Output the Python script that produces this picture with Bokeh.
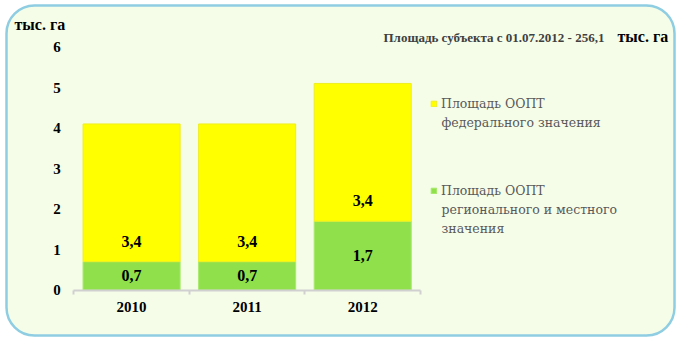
from bokeh.plotting import figure
from bokeh.models import (Range1d, FixedTicker, BoxAnnotation, Label, Legend,
                          LegendItem, ColumnDataSource)
from bokeh.embed import file_html
from bokeh.resources import INLINE
from bokeh.core.properties import value

# ---- data ----
years = ["2010", "2011", "2012"]
regional = [0.7, 0.7, 1.7]
federal = [3.4, 3.4, 3.4]
regional_labels = ["0,7", "0,7", "1,7"]
federal_labels = ["3,4", "3,4", "3,4"]
y_ticks = [0, 1, 2, 3, 4, 5, 6]
series_federal = ["Площадь ООПТ", "федерального значения"]
series_regional = ["Площадь ООПТ", "регионального и местного", "значения"]
subject_note = "Площадь субъекта с 01.07.2012 - 256,1"
unit = "тыс. га"

FONT = "Liberation Serif"
LEG_FONT = "DejaVu Serif"
W, H = 677, 340
# plot area (canvas px) of the chart inside the whole-canvas frame
FL, FR, FT, FB = 73.3, 420.0, 46.5, 289.5
x0, x1 = -0.5, len(years) - 0.5
y0, y1 = 0, 6
ppx = (FR - FL) / (x1 - x0)
ppy = (FB - FT) / (y1 - y0)
x_range = Range1d(x0 - FL / ppx, x1 + (W - FR) / ppx)
y_range = Range1d(y0 - (H - FB) / ppy, y1 + FT / ppy)

xc = list(range(len(years)))
source = ColumnDataSource(dict(
    x=xc, regional=regional, federal=federal,
    reg_y=[v / 2 for v in regional],
    fed_y=[v + 0.5 for v in regional],
    reg_lab=regional_labels, fed_lab=federal_labels,
))

p = figure(width=W, height=H, x_range=x_range, y_range=y_range, title=None,
           output_backend="svg", toolbar_location=None,
           min_border=0, min_border_left=0, min_border_right=0,
           min_border_top=0, min_border_bottom=0)
p.border_fill_color = None
p.background_fill_color = None
p.outline_line_color = None
p.grid.visible = False

frame_box = BoxAnnotation(left=6, right=674, top=5, bottom=335,
                          left_units="canvas", right_units="canvas",
                          top_units="canvas", bottom_units="canvas",
                          fill_color="#f5fde9", fill_alpha=1,
                          line_color="#8ecde2", line_width=2.5, line_alpha=1,
                          border_radius=28, level="underlay")
p.add_layout(frame_box)

rs = p.vbar_stack(["regional", "federal"], x="x", width=0.84, source=source,
                  fill_color=["#8fe04b", "#ffff00"],
                  line_color=["#a8ea6a", "#eeee22"], line_width=1)

p.text(x="x", y="reg_y", text="reg_lab", source=source, text_align="center",
       text_baseline="middle", text_font=value(FONT), text_font_style="bold",
       text_font_size="16px", text_color="black")
p.text(x="x", y="fed_y", text="fed_lab", source=source, text_align="center",
       text_baseline="middle", text_font=value(FONT), text_font_style="bold",
       text_font_size="16px", text_color="black")

# axes (fixed inside the frame)
xa = p.xaxis[0]
xa.fixed_location = y0
xa.bounds = (x0, x1)
xa.ticker = FixedTicker(ticks=xc, minor_ticks=[i - 0.5 for i in range(len(years) + 1)])
xa.major_label_overrides = {i: y for i, y in zip(xc, years)}
xa.axis_line_color = "#d0d0d0"
xa.axis_line_width = 2
xa.major_tick_line_color = None
xa.major_tick_in = 0
xa.major_tick_out = 0
xa.minor_tick_line_color = "#d0d0d0"
xa.minor_tick_line_width = 2
xa.minor_tick_in = 0
xa.minor_tick_out = 4
xa.major_label_standoff = 8
xa.major_label_text_font = FONT
xa.major_label_text_font_style = "bold"
xa.major_label_text_font_size = "15px"
xa.major_label_text_color = "black"

ya = p.yaxis[0]
ya.fixed_location = x0
ya.bounds = (y0, y1)
ya.ticker = FixedTicker(ticks=y_ticks)
ya.axis_line_color = None
ya.major_tick_line_color = None
ya.minor_tick_line_color = None
ya.major_tick_in = 0
ya.major_tick_out = 0
ya.major_label_standoff = 13
ya.major_label_text_font = FONT
ya.major_label_text_font_style = "bold"
ya.major_label_text_font_size = "15px"
ya.major_label_text_color = "black"

# legend (first line of each entry in the legend, following lines below it)
LEG_X, LEG_TEXT_X = 430, 441
LEG_Y1, LEG_Y2, LEG_LH = 103, 190, 19
legend = Legend(items=[LegendItem(label=series_federal[0], renderers=[rs[1]]),
                       LegendItem(label=series_regional[0], renderers=[rs[0]])],
                location=(LEG_X, H - LEG_Y2 - 9), orientation="vertical",
                glyph_width=7, glyph_height=7, label_standoff=4,
                label_text_font=LEG_FONT, label_text_font_size="12.5px",
                label_text_color="#595959", label_height=18,
                spacing=(LEG_Y2 - LEG_Y1) - 18, padding=0, margin=0,
                border_line_color=None, background_fill_alpha=0)
p.add_layout(legend)
for y_start, lines in ((LEG_Y1, series_federal), (LEG_Y2, series_regional)):
    for k, line in enumerate(lines[1:], start=1):
        p.add_layout(Label(x=LEG_TEXT_X, y=y_start + k * LEG_LH,
                           x_units="canvas", y_units="canvas", text=line,
                           text_font=LEG_FONT, text_font_size="12.5px",
                           text_color="#595959", text_align="left",
                           text_baseline="middle"))

# texts
p.add_layout(Label(x=14, y=24, x_units="canvas", y_units="canvas", text=unit,
                   text_font=FONT, text_font_style="bold", text_font_size="16px",
                   text_color="black", text_align="left", text_baseline="middle"))
p.add_layout(Label(x=383, y=37, x_units="canvas", y_units="canvas", text=subject_note,
                   text_font=FONT, text_font_style="bold", text_font_size="13px",
                   text_color="#404040", text_align="left", text_baseline="middle"))
p.add_layout(Label(x=617, y=36, x_units="canvas", y_units="canvas", text=unit,
                   text_font=FONT, text_font_style="bold", text_font_size="16px",
                   text_color="black", text_align="left", text_baseline="middle"))

open("out.html", "w").write(file_html(p, INLINE))
